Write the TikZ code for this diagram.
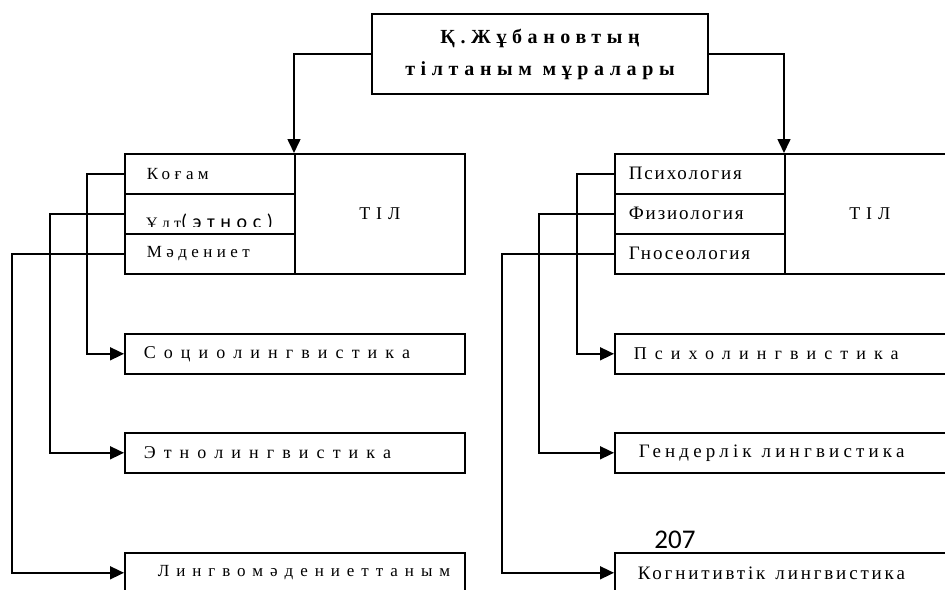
\documentclass[tikz,border=0pt]{standalone}
\usepackage{fontspec}
\setmainfont{Liberation Serif}
\newfontfamily\titlef[LetterSpace=28]{Liberation Serif}
\newfontfamily\lrowf[LetterSpace=26]{Liberation Serif}
\newfontfamily\rrowf[LetterSpace=10]{Liberation Serif}
\newfontfamily\tilf[LetterSpace=33]{Liberation Serif}
\newfontfamily\wideA[LetterSpace=45]{Liberation Serif}
\newfontfamily\wideB[LetterSpace=41]{Liberation Serif}
\newfontfamily\wideC[LetterSpace=22]{Liberation Serif}
\newfontfamily\wideD[LetterSpace=15]{Liberation Serif}
\newfontfamily\etnosf[LetterSpace=28]{Carlito}
\newfontfamily\pagef{Carlito}
\usetikzlibrary{arrows.meta}
\tikzset{
  lw/.style={line width=1.6pt},
  box/.style={draw, lw, inner ysep=0pt, minimum height=40pt, anchor=north west, align=left},
  lrow/.style={box, inner xsep=22pt, text width=126pt, font=\lrowf\fontsize{17}{19}\selectfont},
  rrow/.style={box, inner xsep=14pt, text width=142pt, font=\rrowf\fontsize{19}{21}\selectfont},
  tilbox/.style={draw, lw, inner sep=0pt, minimum width=170pt, minimum height=120pt, anchor=north west, font=\tilf\fontsize{18}{20}\selectfont},
  tgt/.style={box},
  titlebox/.style={draw, lw, minimum width=336pt, minimum height=80pt, align=center, inner sep=0pt, font=\titlef\bfseries\fontsize{20}{32}\selectfont},
  arr/.style={lw, -{Triangle[length=14pt,width=13pt]}}
}
\begin{document}
\begin{tikzpicture}[x=1pt,y=-1pt]
\useasboundingbox (0,0) rectangle (945,589);
\clip (0,0) rectangle (945,589);
% title
\node[titlebox] (title) at (540,54) {Қ.Жұбановтың\\тілтаным мұралары};
% left group
\node[lrow] (l1) at (124,153) {Коғам};
\node[box, minimum width=170pt, inner sep=0pt] (l2) at (124,193) {};
\begin{scope}
  \clip (124,194) rectangle (294,226);
  \node[anchor=base west, inner sep=0pt] (l2t) at (146,228) {{\lrowf\fontsize{16}{18}\selectfont Ұлт}{\etnosf\fontsize{20}{22}\selectfont(этнос)}};
\end{scope}
\node[lrow] (l3) at (124,233) {Мәдениет};
\node[tilbox] (ltil) at (294,153) {ТІЛ};
% right group
\node[rrow] (r1) at (614,153) {Психология};
\node[rrow] (r2) at (614,193) {Физиология};
\node[rrow] (r3) at (614,233) {Гносеология};
\node[tilbox] (rtil) at (784,153) {ТІЛ};
% target boxes left
\node[tgt, inner xsep=19pt, text width=302pt, font=\wideA\fontsize{18}{20}\selectfont] (t1) at (124,333) {Социолингвистика};
\node[tgt, inner xsep=19pt, text width=302pt, font=\wideA\fontsize{18}{20}\selectfont] (t2) at (124,432) {Этнолингвистика};
\node[tgt, inner xsep=33pt, text width=274pt, font=\wideB\fontsize{17}{19}\selectfont] (t3) at (124,552) {Лингвомәдениеттаным};
% target boxes right
\node[tgt, inner xsep=19pt, text width=302pt, font=\wideA\fontsize{18}{20}\selectfont] (u1) at (614,333) {Психолингвистика};
\node[tgt, inner xsep=24pt, text width=292pt, font=\wideC\fontsize{19}{21}\selectfont] (u2) at (614,432) {Гендерлік\hspace{10pt}лингвистика};
\node[tgt, inner xsep=23pt, text width=294pt, font=\wideD\fontsize{19}{21}\selectfont] (u3) at (614,552) {Когнитивтік\hspace{10pt}лингвистика};
% page number
\node[font=\pagef\fontsize{27}{27}\selectfont, inner sep=0pt] (pg) at (675,540) {207};
% arrows from title
\draw[arr] (title.west) -| (ltil.north west);
\draw[arr] (title.east) -| (rtil.north west);
% connectors left
\draw[arr] (l1.west) -- ++(-37,0) |- (t1.west);
\draw[arr] (l2.west) -- ++(-74,0) |- (t2.west);
\draw[arr] (l3.west) -- ++(-112,0) |- (t3.west);
% connectors right
\draw[arr] (r1.west) -- ++(-37,0) |- (u1.west);
\draw[arr] (r2.west) -- ++(-75,0) |- (u2.west);
\draw[arr] (r3.west) -- ++(-112,0) |- (u3.west);
\end{tikzpicture}
\end{document}
